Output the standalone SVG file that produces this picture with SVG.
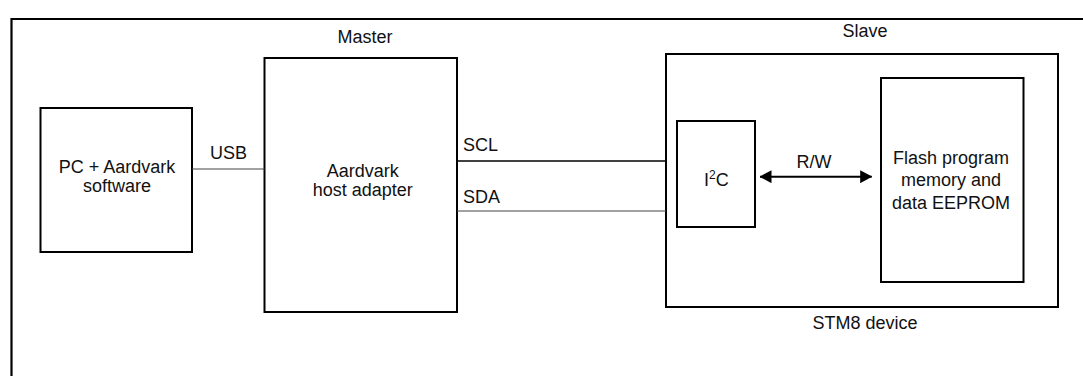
<svg xmlns="http://www.w3.org/2000/svg" width="1083" height="376" viewBox="0 0 1083 376">
<style>
.box{fill:none;stroke:#000;stroke-width:2}
.frame{fill:none;stroke:#000;stroke-width:2.2}
.t{font-family:"Liberation Sans",Arial,Helvetica,sans-serif;font-size:18px;fill:#111}
.m{text-anchor:middle}
.thin{stroke:#444;stroke-width:1;fill:none}
.bus{stroke:#000;stroke-width:1.6;fill:none}
.arr{stroke:#000;stroke-width:2;fill:none}
</style>
<defs>
<marker id="ah" viewBox="0 0 12 13" refX="11.5" refY="6.5" markerWidth="12" markerHeight="13" markerUnits="userSpaceOnUse" orient="auto-start-reverse">
<path d="M0,0 L12,6.5 L0,13 Z" fill="#000"/>
</marker>
</defs>
<path class="frame" d="M11.5,376 L11.5,19 L1083,19"/>
<g id="pc">
<rect class="box" x="40.5" y="108" width="151.5" height="144"/>
<text class="t m" x="117" y="172.5">PC + Aardvark</text>
<text class="t m" x="117" y="191.7">software</text>
</g>
<g id="master">
<text class="t m" x="365" y="43">Master</text>
<rect class="box" x="264.5" y="58" width="192.5" height="254"/>
<text class="t m" x="362.7" y="177.3">Aardvark</text>
<text class="t m" x="362.7" y="196">host adapter</text>
</g>
<g id="slave">
<text class="t m" x="865" y="37">Slave</text>
<rect class="box" x="666" y="54" width="392" height="253"/>
<text class="t m" x="865" y="329">STM8 device</text>
</g>
<g id="i2c">
<rect class="box" x="677" y="121" width="78" height="106"/>
<text class="t" x="704" y="185.7">I<tspan font-size="12" dy="-7">2</tspan><tspan dy="7">C</tspan></text>
</g>
<g id="flash">
<rect class="box" x="881" y="78" width="142.5" height="204"/>
<text class="t m" x="951" y="164">Flash program</text>
<text class="t m" x="951" y="186">memory and</text>
<text class="t m" x="951" y="208.7">data EEPROM</text>
</g>
<g id="connectors">
<line class="thin" x1="192" y1="169" x2="264.5" y2="169"/>
<text class="t" x="210" y="159">USB</text>
<line class="bus" x1="457" y1="161" x2="666" y2="161"/>
<text class="t" x="463" y="150.7">SCL</text>
<line class="thin" x1="457" y1="211" x2="666" y2="211"/>
<text class="t" x="463" y="202.7">SDA</text>
<line class="arr" x1="760" y1="176.7" x2="871.7" y2="176.7" marker-start="url(#ah)" marker-end="url(#ah)"/>
<text class="t m" x="814" y="167.7">R/W</text>
</g>
</svg>
